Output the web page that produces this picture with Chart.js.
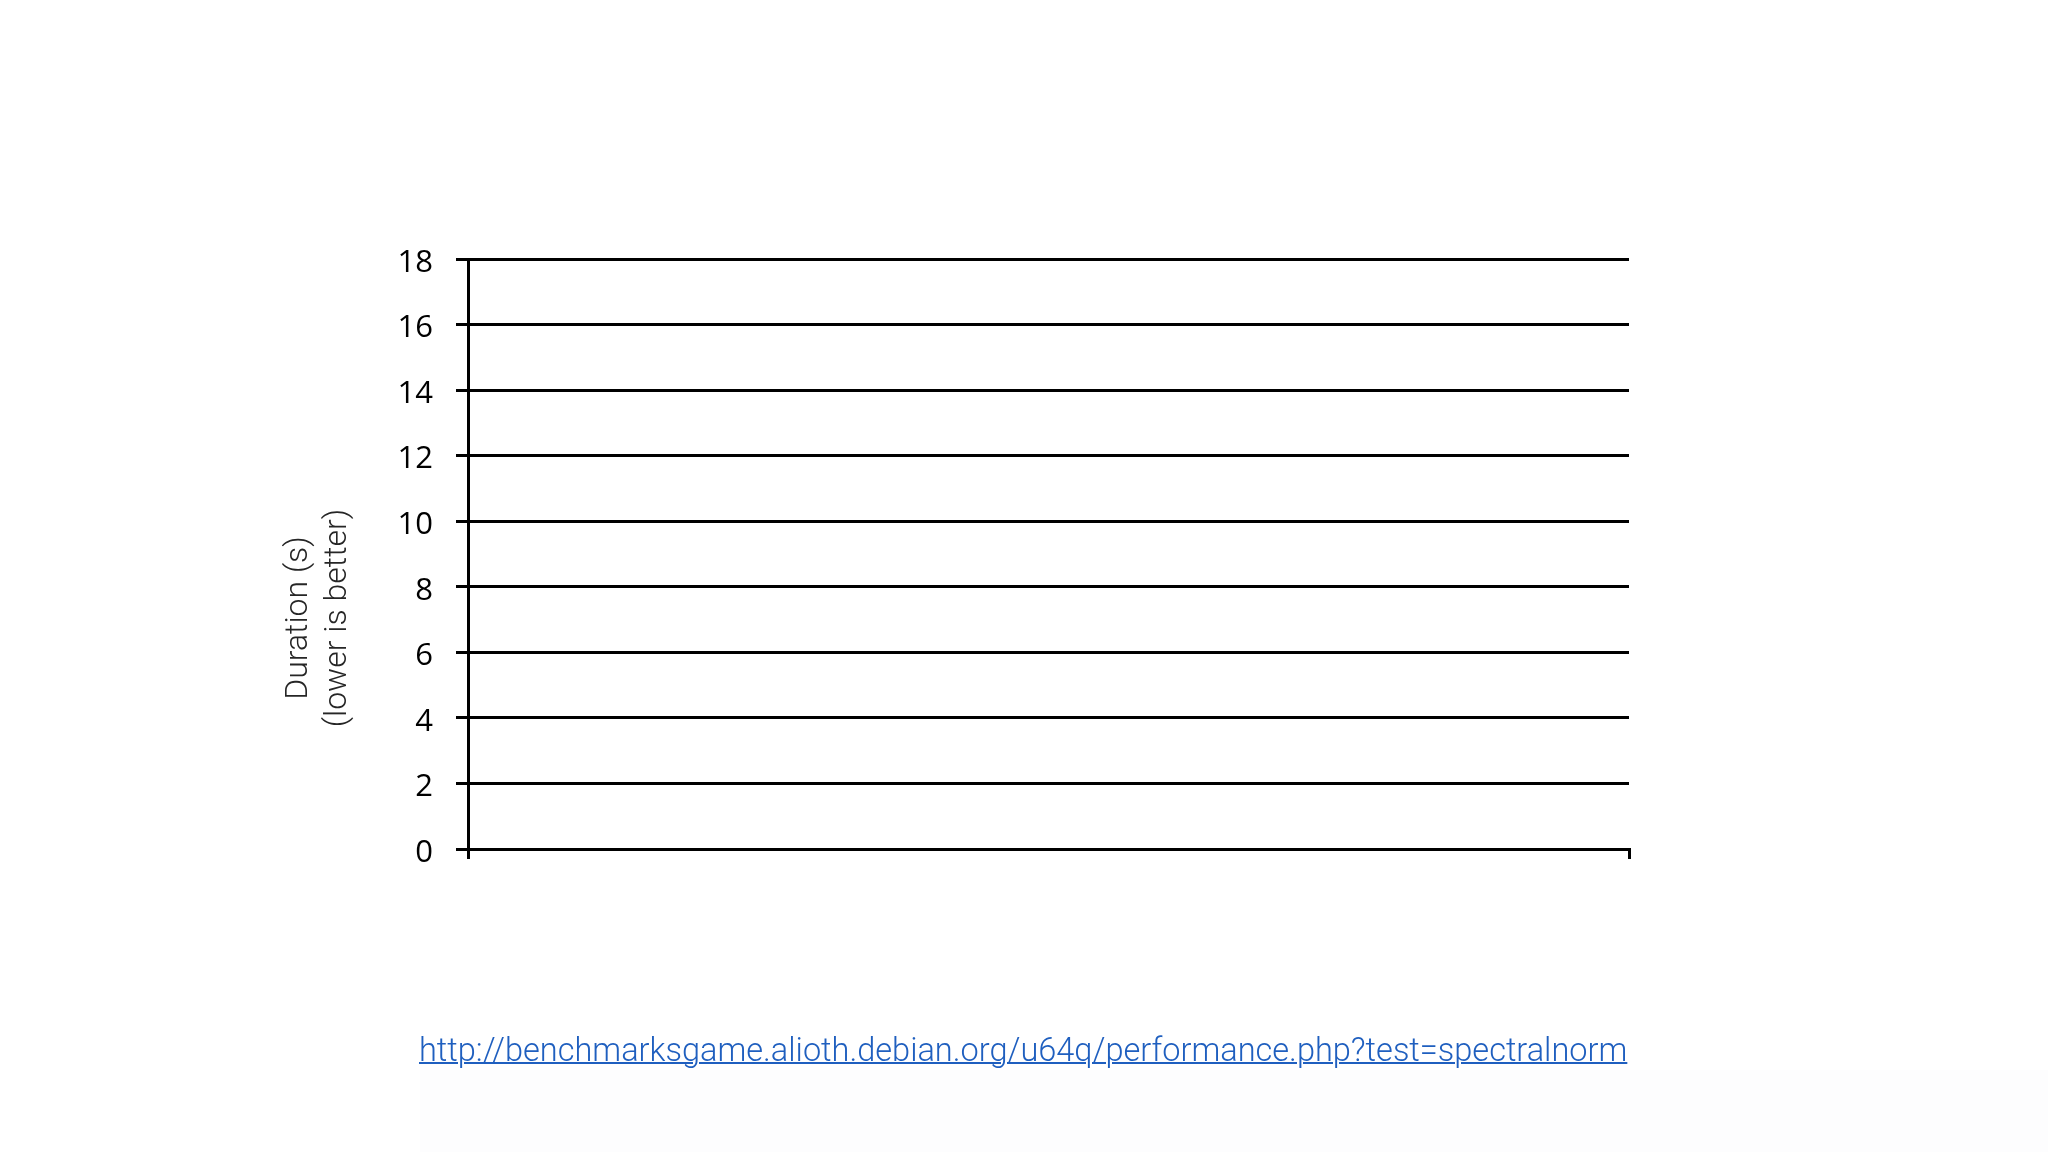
<!DOCTYPE html>
<html lang="en">
<head>
    <meta charset="UTF-8">
    <title>spectralnorm</title>
    <style>
        html, body {
            margin: 0;
            padding: 0;
            background: #ffffff;
        }
        .wrap {
            position: relative;
            width: 2048px;
            height: 1152px;
            overflow: hidden;
        }
        #chart {
            position: absolute;
            left: 0;
            top: 0;
        }
        .shade {
            position: absolute;
            left: 420px;
            top: 1070px;
            right: 0;
            bottom: 0;
            background: #fdfdfe;
        }
        .link {
            position: absolute;
            left: 419px;
            top: 1030px;
            font-family: Roboto, "Liberation Sans", sans-serif;
            font-weight: 300;
            font-size: 32px;
            line-height: 40px;
            color: #1f5fbf;
            text-decoration: underline;
            text-decoration-thickness: 2px;
            white-space: nowrap;
        }
    </style>
</head>
<body>
    <div class="wrap">
        <div class="shade"></div>
        <canvas id="chart" width="2048" height="1152"></canvas>
        <a class="link" id="link" href="http://benchmarksgame.alioth.debian.org/u64q/performance.php?test=spectralnorm">http://benchmarksgame.alioth.debian.org/u64q/performance.php?test=spectralnorm</a>
    </div>

    <script src="https://cdn.jsdelivr.net/npm/chart.js@4/dist/chart.umd.min.js"></script>
    <script>
        // data: empty bar chart, only the axis is shown
        const categories = [''];
        const durations = [null];
        const yTicks = [0, 2, 4, 6, 8, 10, 12, 14, 16, 18];
        const yTitle = ['Duration (s)', '(lower is better)'];

        // stretch the link text to the same width as on the slide
        const link = document.getElementById('link');
        const wantWidth = 1209;
        const gotWidth = link.getBoundingClientRect().width;
        link.style.fontSize = (32 * wantWidth / gotWidth).toFixed(2) + 'px';

        // axis title drawn by hand, it sits lower than the axis centre
        const axisTitle = {
            id: 'axisTitle',
            afterDraw(chart) {
                const ctx = chart.ctx;
                ctx.save();
                ctx.font = '300 32px Roboto, "Liberation Sans", sans-serif';
                ctx.fillStyle = '#262626';
                ctx.textAlign = 'center';
                ctx.textBaseline = 'alphabetic';
                const baseX = [307, 346];
                yTitle.forEach((line, i) => {
                    ctx.save();
                    ctx.translate(baseX[i], 618);
                    ctx.rotate(-Math.PI / 2);
                    ctx.fillText(line, 0, 0);
                    ctx.restore();
                });
                ctx.restore();
            }
        };

        const ctx = document.getElementById('chart');

        new Chart(ctx, {
            type: 'bar',
            data: {
                labels: categories,
                datasets: [{
                    label: 'Duration',
                    data: durations,
                    backgroundColor: '#4472c4'
                }]
            },
            options: {
                responsive: false,
                animation: false,
                layout: {
                    padding: { left: 0, top: 259, right: 419, bottom: 283 }
                },
                plugins: {
                    legend: { display: false },
                    tooltip: { enabled: false }
                },
                scales: {
                    x: {
                        type: 'category',
                        offset: true,
                        afterFit(scale) { scale.height = 20; },
                        border: { display: true, color: '#000000', width: 3 },
                        grid: {
                            display: true,
                            offset: true,
                            drawOnChartArea: false,
                            drawTicks: true,
                            tickLength: 10,
                            color: '#000000',
                            lineWidth: 3
                        },
                        ticks: { display: false }
                    },
                    y: {
                        min: 0,
                        max: 18,
                        afterFit(scale) { scale.width = 468; },
                        afterBuildTicks(scale) {
                            scale.ticks = yTicks.map(v => ({ value: v }));
                        },
                        border: { display: true, color: '#000000', width: 3 },
                        grid: {
                            color: '#000000',
                            lineWidth: 3,
                            drawTicks: true,
                            tickLength: 12
                        },
                        ticks: {
                            padding: 23,
                            labelOffset: 4,
                            color: '#000000',
                            font: { family: '"Open Sans", "Noto Sans", sans-serif', size: 31 }
                        }
                    }
                }
            },
            plugins: [axisTitle]
        });
    </script>
</body>
</html>
